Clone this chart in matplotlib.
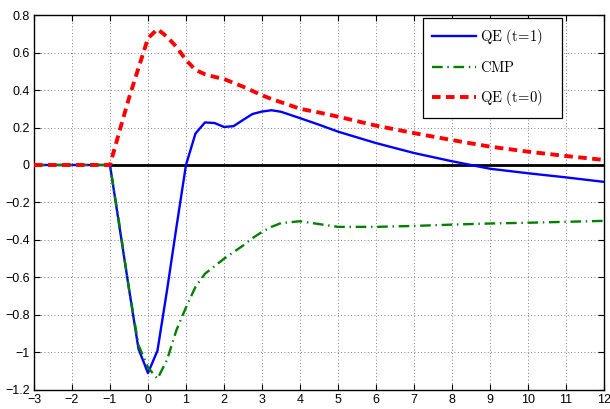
import matplotlib
matplotlib.use("Agg")
import matplotlib.pyplot as plt

# quarters relative to the shock
horizon = [-3, -1, -0.75, -0.5, -0.25, 0, 0.25, 0.5, 0.75, 1, 1.25, 1.5, 1.75,
           2, 2.25, 2.5, 2.75, 3, 3.25, 3.5, 4, 4.5, 5, 6, 7, 8, 9, 10, 11, 12]

qe_t1 = [0, 0, -0.33, -0.66, -0.98, -1.11, -0.99, -0.67, -0.33, 0.0, 0.168,
         0.227, 0.224, 0.203, 0.207, 0.24, 0.272, 0.285, 0.292, 0.284, 0.25,
         0.215, 0.178, 0.117, 0.064, 0.02, -0.02, -0.044, -0.066, -0.09]

cmp_ = [0, 0, -0.32, -0.66, -0.96, -1.08, -1.14, -1.04, -0.88, -0.76, -0.65,
        -0.58, -0.54, -0.50, -0.465, -0.43, -0.39, -0.357, -0.33, -0.31, -0.30,
        -0.315, -0.33, -0.33, -0.325, -0.318, -0.312, -0.308, -0.303, -0.298]

qe_t0 = [0, 0, 0.18, 0.357, 0.517, 0.676, 0.725, 0.684, 0.63, 0.56, 0.507,
         0.484, 0.47, 0.459, 0.438, 0.418, 0.395, 0.372, 0.352, 0.335, 0.30,
         0.28, 0.258, 0.21, 0.17, 0.133, 0.098, 0.071, 0.048, 0.027]

zero_x = [-1, 12]
zero_y = [0, 0]

plt.rcParams['mathtext.fontset'] = 'cm'
plt.rcParams['font.family'] = ['Liberation Sans', 'DejaVu Sans']

fig = plt.figure(figsize=(6.1, 4.09), dpi=100)
ax = fig.add_axes([0.0557, 0.0465, 0.9344, 0.9168])

ax.plot(zero_x, zero_y, color='black', linewidth=2.0, zorder=2)
ax.plot(horizon, qe_t1, color='blue', linewidth=1.7, zorder=3,
        label=r'$\mathrm{QE\ (t\!=\!1)}$')
ax.plot(horizon, cmp_, color='#007f00', linewidth=1.7, linestyle='-.', zorder=4,
        dashes=(4.5, 2, 0.6, 2), label=r'$\mathrm{CMP}$')
ax.plot(horizon, qe_t0, color='red', linewidth=2.8, zorder=5,
        dashes=(2.2, 1.4), label=r'$\mathrm{QE\ (t\!=\!0)}$')

ax.set_xlim(-3, 12)
ax.set_ylim(-1.2, 0.8)
ax.set_xticks(range(-3, 13))
ax.set_yticks([-1.2, -1, -0.8, -0.6, -0.4, -0.2, 0, 0.2, 0.4, 0.6, 0.8])
ax.set_yticklabels(['\u22121.2', '\u22121', '\u22120.8', '\u22120.6', '\u22120.4',
                    '\u22120.2', '0', '0.2', '0.4', '0.6', '0.8'])
ax.set_xticklabels([str(v).replace('-', '\u2212') for v in range(-3, 13)])
ax.tick_params(direction='in', top=True, right=True, length=4, width=0.8,
               labelsize=9, pad=3)
ax.grid(True, linestyle=(0, (1, 3)), color='#555555', linewidth=0.6)
for s in ax.spines.values():
    s.set_linewidth(1.0)

# legend box stretched to a fixed width, entries left-aligned inside it
leg = ax.legend(loc='upper right', bbox_to_anchor=(0.6825, 0, 0.2438, 0.992),
                mode='expand', fontsize=10.5, fancybox=False, framealpha=1,
                edgecolor='black', borderpad=0.65, labelspacing=0.88,
                handlelength=3.0, handletextpad=0.27, borderaxespad=0)
leg.get_frame().set_linewidth(0.9)
leg.set_zorder(10)

fig.savefig('out.png', dpi=100)
